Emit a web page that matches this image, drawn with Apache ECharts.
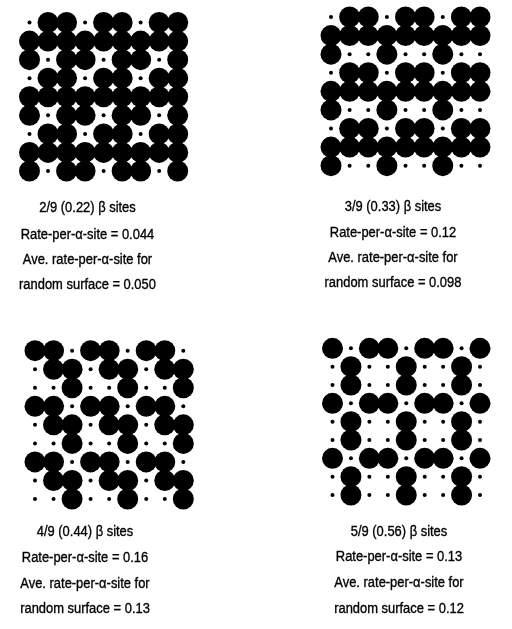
<!DOCTYPE html>
<html>
<head>
<meta charset="utf-8">
<script src="https://cdn.jsdelivr.net/npm/echarts@6/dist/echarts.min.js"></script>
<style>
html,body{margin:0;padding:0;background:#fff;}
#chart{width:512px;height:629px;}
</style>
</head>
<body>
<div id="chart"></div>
<script>
// Site maps: 'b' = alpha site (large dot), 's' = beta site (small dot); rows top to bottom
const lattice22 = ["sbbsbbsbb","bbbbbbbbb","bsbbsbbsb","sbbsbbsbb","bbbbbbbbb","bsbbsbbsb","sbbsbbsbb","bbbbbbbbb","bsbbsbbsb"];
const lattice33 = ["sbbsbbsbb","bbbbbbbbb","bssbssbss","sbbsbbsbb","bbbbbbbbb","bssbssbss","sbbsbbsbb","bbbbbbbbb","bssbssbss"];
const lattice44 = ["bbsbbsbbs","sbbsbbsbb","ssbssbssb","bbsbbsbbs","sbbsbbsbb","ssbssbssb","bbsbbsbbs","sbbsbbsbb","ssbssbssb"];
const lattice56 = ["bsbbsbbsb","sbssbssbs","sbssbssbs","bsbbsbbsb","sbssbssbs","sbssbssbs","bsbbsbbsb","sbssbssbs","sbssbssbs"];

const caption22 = ["2/9 (0.22) β sites","Rate-per-α-site = 0.044","Ave. rate-per-α-site for","random surface = 0.050"];
const caption33 = ["3/9 (0.33) β sites","Rate-per-α-site = 0.12","Ave. rate-per-α-site for","random surface = 0.098"];
const caption44 = ["4/9 (0.44) β sites","Rate-per-α-site = 0.16","Ave. rate-per-α-site for","random surface = 0.13"];
const caption56 = ["5/9 (0.56) β sites","Rate-per-α-site = 0.13","Ave. rate-per-α-site for","random surface = 0.12"];

const lattices = [lattice22, lattice33, lattice44, lattice56];
const captions = [caption22, caption33, caption44, caption56];

// layout only
const gridBoxes = [
  {left:29.5, top:22.5, width:148.2, height:148.5},
  {left:331, top:17, width:149, height:148.7},
  {left:35, top:350.7, width:148.3, height:148.3},
  {left:332.5, top:348.3, width:147.5, height:146.7}
];
const captionX = [87.5, 393, 85, 399];
const captionY = [[208.3,235,260,285],[206.7,233.3,258.3,283.3],[531.7,557.7,584,609],[531.7,556.7,583.3,609]];

const chart = echarts.init(document.getElementById('chart'), null, {renderer:'canvas'});
const grid = [], xAxis = [], yAxis = [], series = [], graphic = [];
lattices.forEach((lat, i) => {
  grid.push(Object.assign({containLabel:false}, gridBoxes[i]));
  xAxis.push({type:'value', gridIndex:i, min:0, max:8, show:false});
  yAxis.push({type:'value', gridIndex:i, min:0, max:8, inverse:true, show:false});
  const alpha = [], beta = [];
  lat.forEach((row, r) => {
    row.split('').forEach((c, col) => {
      (c === 'b' ? alpha : beta).push([col, r]);
    });
  });
  series.push({type:'scatter', xAxisIndex:i, yAxisIndex:i, data:beta, symbol:'circle', symbolSize:4,
    itemStyle:{color:'#000', opacity:1, borderWidth:0}, silent:true, animation:false});
  series.push({type:'scatter', xAxisIndex:i, yAxisIndex:i, data:alpha, symbol:'circle', symbolSize:21,
    itemStyle:{color:'#000', opacity:1, borderWidth:0}, silent:true, animation:false});
  captions[i].forEach((t, k) => {
    graphic.push({type:'text', x:captionX[i], y:captionY[i][k], scaleX:0.88,
      style:{text:t, textAlign:'center', textVerticalAlign:'middle', fill:'#000',
        stroke:'#000', lineWidth:0.35,
        fontSize:14.7, fontFamily:'"Liberation Sans", Arial, sans-serif'}});
  });
});
chart.setOption({backgroundColor:'#fff', animation:false, grid, xAxis, yAxis, series, graphic});
</script>
</body>
</html>
